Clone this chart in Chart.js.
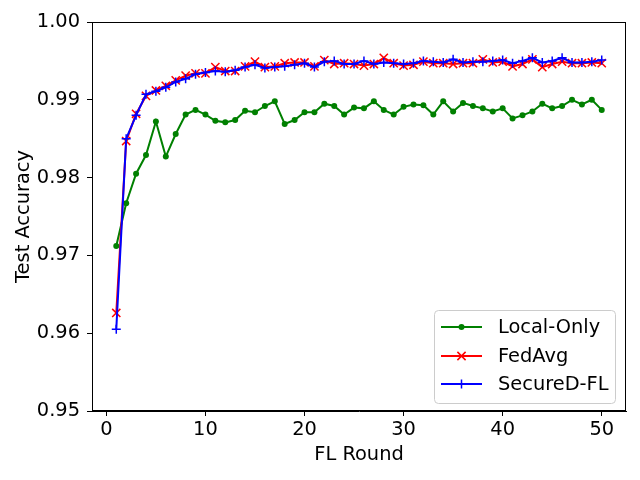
<!DOCTYPE html>
<html>
<head>
<meta charset="utf-8">
<script src="https://cdn.jsdelivr.net/npm/chart.js@4.4.1/dist/chart.umd.min.js"></script>
<style>
html,body{margin:0;padding:0;background:#fff;}
#wrap{width:640px;height:480px;}
</style>
</head>
<body>
<div id="wrap"><canvas id="c" width="640" height="480"></canvas></div>
<script>
const rounds = [1,2,3,4,5,6,7,8,9,10,11,12,13,14,15,16,17,18,19,20,21,22,23,24,25,26,27,28,29,30,31,32,33,34,35,36,37,38,39,40,41,42,43,44,45,46,47,48,49,50];
const localOnly = [0.9712,0.9767,0.9805,0.9829,0.9872,0.9827,0.9856,0.9881,0.9887,0.9881,0.9873,0.9871,0.9874,0.9886,0.9884,0.9892,0.9898,0.9869,0.9874,0.9884,0.9884,0.9895,0.9892,0.9881,0.9890,0.9889,0.9898,0.9887,0.9881,0.9891,0.9894,0.9893,0.9881,0.9898,0.9885,0.9896,0.9892,0.9889,0.9885,0.9889,0.9876,0.9880,0.9885,0.9895,0.9889,0.9892,0.9900,0.9894,0.9900,0.9887];
const fedAvg = [0.9626,0.9847,0.9882,0.9905,0.9912,0.9918,0.9925,0.9931,0.9934,0.9934,0.9942,0.9937,0.9937,0.9943,0.9949,0.9942,0.9943,0.9947,0.9948,0.9948,0.9943,0.9951,0.9946,0.9947,0.9946,0.9944,0.9946,0.9954,0.9947,0.9944,0.9945,0.9949,0.9947,0.9947,0.9946,0.9947,0.9947,0.9952,0.9948,0.9949,0.9943,0.9946,0.9952,0.9942,0.9946,0.9949,0.9947,0.9947,0.9948,0.9947];
const securedFL = [0.9605,0.9850,0.9880,0.9907,0.9911,0.9916,0.9923,0.9927,0.9933,0.9935,0.9937,0.9936,0.9938,0.9942,0.9945,0.9941,0.9942,0.9943,0.9945,0.9947,0.9942,0.9949,0.9950,0.9946,0.9946,0.9950,0.9946,0.9948,0.9947,0.9946,0.9947,0.9950,0.9949,0.9948,0.9952,0.9948,0.9949,0.9949,0.9950,0.9951,0.9947,0.9950,0.9954,0.9948,0.9950,0.9954,0.9948,0.9948,0.9949,0.9951];
const xTicks = [0,10,20,30,40,50];
const yTicks = [0.95,0.96,0.97,0.98,0.99,1.00];
const seriesNames = ['Local-Only','FedAvg','SecureD-FL'];

const FS = 19.4;
Chart.defaults.font.family = 'DejaVu Sans';
Chart.defaults.font.size = FS;
Chart.defaults.color = '#000';

const pts = arr => rounds.map((r,i)=>({x:r,y:arr[i]}));

const frameAndLegend = {
  id:'frameAndLegend',
  afterDatasetsDraw(chart){
    const ctx = chart.ctx, a = chart.chartArea;
    ctx.save();
    ctx.strokeStyle = '#000'; ctx.lineWidth = 1;
    ctx.strokeRect(Math.round(a.left)+0.5, Math.round(a.top)+0.5, Math.round(a.right-a.left)-1, Math.round(a.bottom-a.top)-1);
    // legend
    const bx=434.5, by=310.5, bw=181, bh=93;
    ctx.beginPath();
    ctx.roundRect(bx,by,bw,bh,4);
    ctx.fillStyle='rgba(255,255,255,0.8)'; ctx.fill();
    ctx.strokeStyle='#cccccc'; ctx.lineWidth=1; ctx.stroke();
    const rows=[327,356,384];
    chart.data.datasets.forEach((ds,i)=>{
      const y=rows[i];
      ctx.strokeStyle=ds.borderColor; ctx.lineWidth=2;
      ctx.beginPath(); ctx.moveTo(441,y); ctx.lineTo(482,y); ctx.stroke();
      const mx=461.5;
      ctx.lineWidth=1.5;
      if(ds.pointStyle==='circle'){
        ctx.fillStyle=ds.borderColor; ctx.beginPath(); ctx.arc(mx,y,3,0,Math.PI*2); ctx.fill();
      } else if(ds.pointStyle==='crossRot'){
        const r=4.1; ctx.beginPath(); ctx.moveTo(mx-r,y-r); ctx.lineTo(mx+r,y+r); ctx.moveTo(mx-r,y+r); ctx.lineTo(mx+r,y-r); ctx.stroke();
      } else {
        const r=4.5; ctx.beginPath(); ctx.moveTo(mx-r,y); ctx.lineTo(mx+r,y); ctx.moveTo(mx,y-r); ctx.lineTo(mx,y+r); ctx.stroke();
      }
      ctx.fillStyle='#000'; ctx.font=FS+'px "DejaVu Sans"'; ctx.textBaseline='middle'; ctx.textAlign='left';
      ctx.fillText(ds.label,498,y+1);
    });
    ctx.restore();
  }
};

new Chart(document.getElementById('c'),{
  type:'line',
  data:{datasets:[
    {label:seriesNames[0],data:pts(localOnly),borderColor:'#008000',backgroundColor:'#008000',pointStyle:'circle',pointRadius:3,pointBackgroundColor:'#008000',pointBorderColor:'#008000',pointBorderWidth:0,borderWidth:2,order:3},
    {label:seriesNames[1],data:pts(fedAvg),borderColor:'#ff0000',backgroundColor:'#ff0000',pointStyle:'crossRot',pointRadius:5.8,pointBorderColor:'#ff0000',pointBorderWidth:1.5,borderWidth:2,order:2},
    {label:seriesNames[2],data:pts(securedFL),borderColor:'#0000ff',backgroundColor:'#0000ff',pointStyle:'cross',pointRadius:4.5,pointBorderColor:'#0000ff',pointBorderWidth:1.5,borderWidth:2,order:1}
  ]},
  options:{
    responsive:false,animation:false,devicePixelRatio:1,
    layout:{padding:{left:0,right:14,top:22,bottom:0}},
    plugins:{legend:{display:false},tooltip:{enabled:false}},
    elements:{line:{tension:0}},
    scales:{
      x:{type:'linear',min:-1.45,max:52.45,
        afterBuildTicks:s=>{s.ticks=xTicks.map(v=>({value:v}));},
        afterFit:s=>{s.height=69;},
        grid:{drawOnChartArea:false,drawTicks:true,tickLength:5,color:'#000',tickWidth:1},
        border:{display:true,color:'#000',width:1},
        ticks:{padding:2,color:'#000',maxRotation:0,callback:v=>String(v)},
        title:{display:true,text:'FL Round',color:'#000',font:{size:FS},padding:{top:0,bottom:13.4}}
      },
      y:{type:'linear',min:0.95,max:1.0,
        afterBuildTicks:s=>{s.ticks=yTicks.map(v=>({value:v}));},
        afterFit:s=>{s.width=92;},
        grid:{drawOnChartArea:false,drawTicks:true,tickLength:5,color:'#000',tickWidth:1},
        border:{display:true,color:'#000',width:1},
        ticks:{padding:7,color:'#000',callback:v=>Number(v).toFixed(2)},
        title:{display:true,text:'Test Accuracy',color:'#000',font:{size:FS},padding:{top:12.4,bottom:0}}
      }
    }
  },
  plugins:[frameAndLegend]
});
</script>
</body>
</html>
